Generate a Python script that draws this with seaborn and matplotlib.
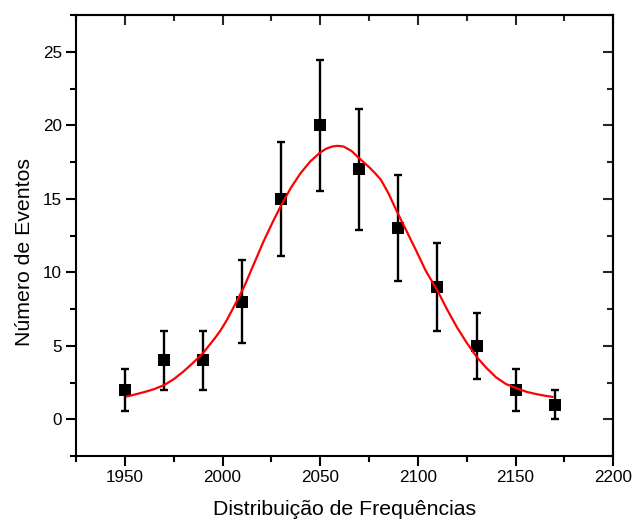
import numpy as np
import pandas as pd
import matplotlib
matplotlib.use("Agg")
import matplotlib.pyplot as plt
import seaborn as sns
from matplotlib.ticker import MultipleLocator, NullFormatter

# ---- data ----
freq = [1950, 1970, 1990, 2010, 2030, 2050, 2070, 2090, 2110, 2130, 2150, 2170]
counts = [2, 4, 4, 8, 15, 20, 17, 13, 9, 5, 2, 1]
errors = [1.41, 2.0, 2.0, 2.83, 3.87, 4.47, 4.12, 3.61, 3.0, 2.24, 1.41, 1.0]

# red fitted curve
fit_x = [1951, 1955, 1960, 1965, 1970, 1975, 1980, 1985, 1990, 1996,
         1999, 2002, 2006, 2011, 2016, 2021, 2026, 2030, 2035, 2040,
         2045, 2050, 2053, 2056, 2059, 2062, 2066, 2070, 2075, 2078,
         2081, 2085, 2089, 2094, 2099, 2104, 2110, 2115, 2120, 2125,
         2130, 2135, 2140, 2145, 2151, 2156, 2161, 2165, 2169]
fit_y = [1.55, 1.68, 1.85, 2.05, 2.32, 2.72, 3.25, 3.85, 4.5, 5.5,
         6.05, 6.7, 7.7, 9.0, 10.55, 12.1, 13.5, 14.55, 15.75, 16.75,
         17.55, 18.15, 18.4, 18.55, 18.6, 18.55, 18.25, 17.75, 17.15, 16.75,
         16.3, 15.35, 14.2, 12.85, 11.5, 10.1, 8.75, 7.45, 6.25, 5.2,
         4.25, 3.5, 2.85, 2.4, 2.08, 1.85, 1.7, 1.6, 1.52]

x_label = "Distribuição de Frequências"
y_label = "Número de Eventos"

sns.set_theme(style="ticks")
plt.rcParams['font.family'] = ['Liberation Sans', 'DejaVu Sans']
plt.rcParams['axes.linewidth'] = 1.5

fig = plt.figure(figsize=(6.32, 5.21), dpi=100)
ax = fig.add_axes([76 / 632, (521 - 456) / 521, (613.3 - 76) / 632, (456 - 15) / 521])

ax.errorbar(freq, counts, yerr=errors, fmt='none', ecolor='black',
            elinewidth=1.7, capsize=2.7, capthick=1.7, zorder=2)
sns.scatterplot(x=freq, y=counts, marker='s', s=64, color='black',
                edgecolor='black', linewidth=0, ax=ax, zorder=3)
line_df = pd.DataFrame({"x": fit_x, "y": fit_y})
sns.lineplot(data=line_df, x="x", y="y", color='#ff0000', linewidth=1.6,
             ax=ax, zorder=4, sort=True)
for ln in ax.get_lines():
    ln.set_solid_joinstyle('round')
    ln.set_solid_capstyle('round')

ax.set_xlim(1925, 2200)
ax.set_ylim(-2.5, 27.5)
ax.xaxis.set_major_locator(MultipleLocator(50))
ax.xaxis.set_minor_locator(MultipleLocator(25))
ax.yaxis.set_major_locator(MultipleLocator(5))
ax.yaxis.set_minor_locator(MultipleLocator(2.5))

for sp in ax.spines.values():
    sp.set_visible(True)
    sp.set_linewidth(1.5)
    sp.set_color('black')

ax.tick_params(axis='both', which='major', direction='out', length=7,
               width=1.5, labelsize=12.3, color='black', labelcolor='black', pad=3)
ax.tick_params(axis='both', which='minor', direction='out', length=4,
               width=1.5, color='black')
ax.tick_params(top=False, right=False, which='both')

secx = ax.secondary_xaxis('top')
secx.xaxis.set_major_locator(MultipleLocator(50))
secx.xaxis.set_minor_locator(MultipleLocator(25))
secx.xaxis.set_major_formatter(NullFormatter())
secx.tick_params(axis='x', which='major', direction='in', length=7, width=1.5)
secx.tick_params(axis='x', which='minor', direction='in', length=4, width=1.5)
secx.spines['top'].set_linewidth(1.5)

secy = ax.secondary_yaxis('right')
secy.yaxis.set_major_locator(MultipleLocator(5))
secy.yaxis.set_minor_locator(MultipleLocator(2.5))
secy.yaxis.set_major_formatter(NullFormatter())
secy.tick_params(axis='y', which='major', direction='in', length=7, width=1.5)
secy.tick_params(axis='y', which='minor', direction='in', length=4, width=1.5)
secy.spines['right'].set_linewidth(1.5)

ax.set_xlabel(x_label, fontsize=15.3, color='black')
ax.set_ylabel(y_label, fontsize=15.3, color='black')
ax.xaxis.set_label_coords(0.5, -0.100)
ax.yaxis.set_label_coords(-0.0782, 0.4626)

fig.savefig("out.png", dpi=100, facecolor='white')
